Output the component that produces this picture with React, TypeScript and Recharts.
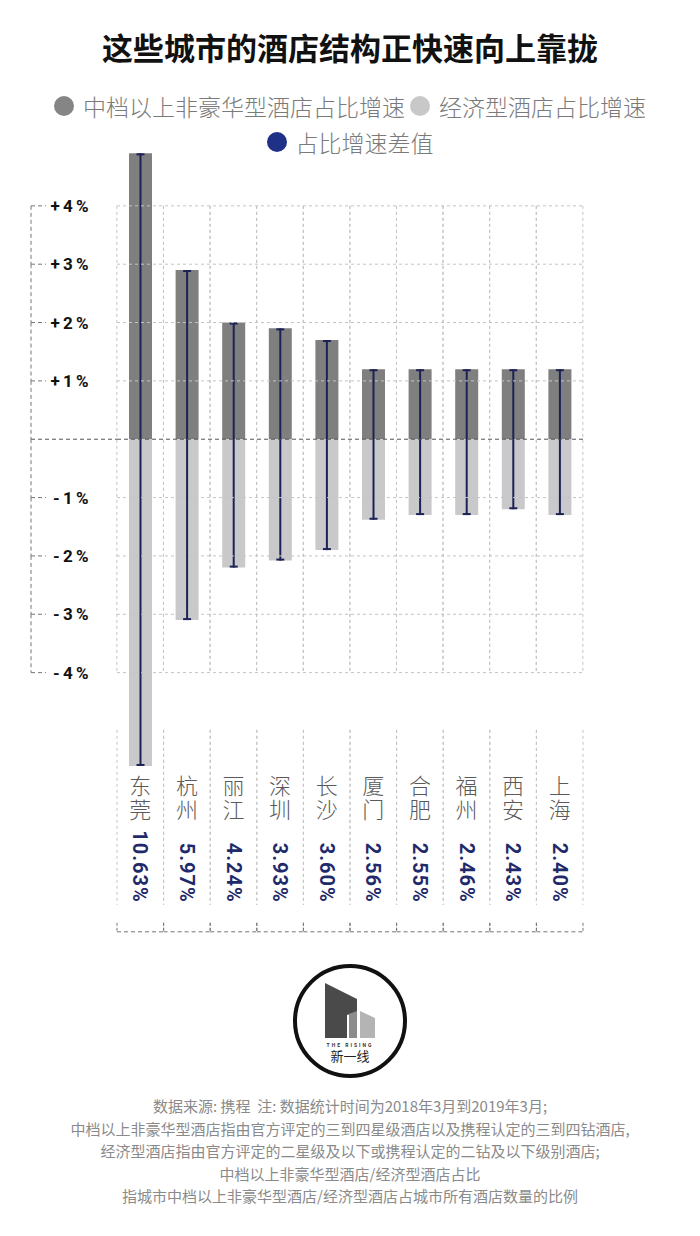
import React from 'react';
import { BarChart, Bar, XAxis, YAxis, ReferenceLine } from 'recharts';

// 数据
const cities = ['东莞', '杭州', '丽江', '深圳', '长沙', '厦门', '合肥', '福州', '西安', '上海'];
const midRise = [4.9, 2.9, 2.0, 1.9, 1.7, 1.2, 1.2, 1.2, 1.2, 1.2];
const econRise = [-5.6, -3.1, -2.2, -2.08, -1.9, -1.38, -1.3, -1.3, -1.2, -1.3];
const gapLabels = ['10.63%', '5.97%', '4.24%', '3.93%', '3.60%', '2.56%', '2.55%', '2.46%', '2.43%', '2.40%'];
const yTicks = [-4, -3, -2, -1, 0, 1, 2, 3, 4];
const gridSpan = [-4, 4];

const footNotes = [
  '数据来源: 携程  注: 数据统计时间为2018年3月到2019年3月;',
  '中档以上非豪华型酒店指由官方评定的三到四星级酒店以及携程认定的三到四钻酒店,',
  '经济型酒店指由官方评定的二星级及以下或携程认定的二钻及以下级别酒店;',
  '中档以上非豪华型酒店/经济型酒店占比',
  '指城市中档以上非豪华型酒店/经济型酒店占城市所有酒店数量的比例',
];

const data = cities.map((city, i) => ({ city, mid: midRise[i], econ: econRise[i], gap: gapLabels[i] }));

// 布局
const W = 700;
const CH = 950;
const MT = 147.5;
const MB = 5;
const XH = 173.2;
const ML = 31;
const MR = 48;
const YLW = 86;
const YRW = 69;
const DMAX = 5;
const DMIN = -5.7;
const PLOT_H = CH - MT - MB - XH;
const PPU = PLOT_H / (DMAX - DMIN);
const BAND = (W - ML - MR - YLW - YRW) / cities.length;

const MID = '#7f7f7f';
const ECON = '#c9c9cb';
const NAVY = '#1c2255';
const NAVY_DOT = '#1f3186';
const GRID = '#c4c4c4';
const BRACKET = '#777';
const ZERO = '#555';
const CJK = '"Noto Sans CJK SC", "Noto Sans", sans-serif';
const NUM = 'Roboto, "DejaVu Sans", sans-serif';

const fmt = (v: number) => (v > 0 ? '+ ' : '- ') + Math.abs(v) + ' %';

const LeftTick = ({ x, y, payload }: any) => {
  const v = payload.value;
  const bx = x - 57;
  return (
    <g>
      <line x1={bx} x2={v === 0 ? x + 29 : bx + 15} y1={y} y2={y} stroke={v === 0 ? ZERO : BRACKET} strokeDasharray="4 3" />
      {v > -4 && <line x1={bx} x2={bx} y1={y} y2={y + PPU} stroke={BRACKET} strokeDasharray="4 3" />}
      {v !== 0 && (
        <text x={x} y={y} textAnchor="end" dominantBaseline="central" fontFamily={NUM} fontWeight={700} fontSize={17} letterSpacing={-0.5} fill="#111">
          {fmt(v)}
        </text>
      )}
    </g>
  );
};

const RightTick = ({ x, y, payload }: any) => {
  const v = payload.value;
  const bx = x + 57;
  return (
    <g>
      <line x1={v === 0 ? x - 29 : bx - 15} x2={bx} y1={y} y2={y} stroke={v === 0 ? ZERO : BRACKET} strokeDasharray="4 3" />
      {v > -4 && <line x1={bx} x2={bx} y1={y} y2={y + PPU} stroke={BRACKET} strokeDasharray="4 3" />}
      {v !== 0 && (
        <text x={x} y={y} textAnchor="start" dominantBaseline="central" fontFamily={NUM} fontWeight={700} fontSize={17} letterSpacing={-0.5} fill="#111">
          {fmt(v)}
        </text>
      )}
    </g>
  );
};

const CityTick = ({ x, y, payload }: any) => {
  const row = data.find((d) => d.city === payload.value);
  if (!row) return null;
  const l = x - BAND / 2;
  const r = x + BAND / 2;
  return (
    <g>
      <line x1={l} x2={l} y1={y - 42} y2={y + 133} stroke={GRID} strokeDasharray="3 3" />
      <line x1={r} x2={r} y1={y - 42} y2={y + 133} stroke={GRID} strokeDasharray="3 3" />
      <text
        x={x}
        y={y + 3}
        writingMode="vertical-rl"
        style={{ writingMode: 'vertical-rl' }}
        letterSpacing={2}
        fontFamily={CJK}
        fontWeight={300}
        fontSize={22}
        fill="#5a5a5a"
      >
        {row.city}
      </text>
      <text
        transform={`translate(${x}, ${y + 131}) rotate(90)`}
        textAnchor="end"
        dominantBaseline="central"
        fontFamily={NUM}
        fontWeight={700}
        fontSize={20}
        letterSpacing={1}
        fill="#1f2a6b"
      >
        {row.gap}
      </text>
      <line x1={l} x2={r} y1={y + 160} y2={y + 160} stroke={BRACKET} strokeDasharray="4 3" />
      <line x1={l} x2={l} y1={y + 151} y2={y + 160} stroke={BRACKET} strokeDasharray="3 2" />
      <line x1={r} x2={r} y1={y + 151} y2={y + 160} stroke={BRACKET} strokeDasharray="3 2" />
    </g>
  );
};

// dashed column frame between +4% and -4%
const GridCell = (props: any) => {
  const { x, y, width, height } = props;
  if (x == null || y == null) return null;
  const cx = x + width / 2;
  const top = Math.min(y, y + height);
  const bottom = Math.max(y, y + height);
  return (
    <g>
      <line x1={cx - BAND / 2} x2={cx - BAND / 2} y1={top} y2={bottom} stroke={GRID} strokeDasharray="3 3" />
      <line x1={cx + BAND / 2} x2={cx + BAND / 2} y1={top} y2={bottom} stroke={GRID} strokeDasharray="3 3" />
    </g>
  );
};

const Whisker = (props: any) => {
  const { x, y, width, height } = props;
  if (x == null || y == null) return null;
  const cx = x + width / 2;
  const top = Math.min(y, y + height);
  const bottom = Math.max(y, y + height);
  return (
    <g>
      <line x1={cx} x2={cx} y1={top} y2={bottom} stroke={NAVY} strokeWidth={2} />
      <line x1={cx - 4} x2={cx + 4} y1={top + 1} y2={top + 1} stroke={NAVY} strokeWidth={2} />
      <line x1={cx - 4} x2={cx + 4} y1={bottom - 1} y2={bottom - 1} stroke={NAVY} strokeWidth={2} />
    </g>
  );
};

const Dot = ({ c }: { c: string }) => (
  <span style={{ display: 'inline-block', width: 20, height: 20, borderRadius: 10, background: c, marginRight: 9 }} />
);

export default function App() {
  return (
    <div style={{ position: 'absolute', left: 0, top: 0, width: W, height: 1236, background: '#fff', fontFamily: CJK, overflow: 'hidden' }}>
      <div style={{ position: 'absolute', left: 0, top: 0 }}>
        <BarChart width={W} height={CH} data={data} margin={{ top: MT, right: MR, bottom: MB, left: ML }} stackOffset="sign" barGap={0}>
          {yTicks
            .filter((t) => t !== 0)
            .map((t) => (
              <ReferenceLine key={t} y={t} yAxisId="l" stroke={GRID} strokeDasharray="3 3" />
            ))}
          <XAxis dataKey="city" height={XH} tickLine={false} axisLine={false} tickSize={0} tickMargin={0} interval={0} tick={CityTick} />
          <XAxis xAxisId="b" dataKey="city" hide />
          <XAxis xAxisId="c" dataKey="city" hide />
          <YAxis
            yAxisId="l"
            type="number"
            domain={[DMIN, DMAX]}
            ticks={yTicks}
            width={YLW}
            tickLine={false}
            axisLine={false}
            tickSize={0}
            tickMargin={29}
            tick={LeftTick}
            interval={0}
          />
          <YAxis
            yAxisId="r"
            orientation="right"
            type="number"
            domain={[DMIN, DMAX]}
            ticks={yTicks}
            width={YRW}
            tickLine={false}
            axisLine={false}
            tickSize={0}
            tickMargin={29}
            tick={RightTick}
            interval={0}
          />
          <Bar xAxisId="c" yAxisId="l" dataKey={() => gridSpan} shape={GridCell} isAnimationActive={false} />
          <Bar dataKey="mid" stackId="s" yAxisId="l" fill={MID} barSize={23} isAnimationActive={false} />
          <Bar dataKey="econ" stackId="s" yAxisId="l" fill={ECON} barSize={23} isAnimationActive={false} />
          <ReferenceLine y={0} yAxisId="l" stroke={ZERO} strokeDasharray="4 3" />
          <Bar
            xAxisId="b"
            yAxisId="l"
            dataKey={(d: any) => [d.econ, d.mid]}
            barSize={23}
            shape={Whisker}
            isAnimationActive={false}
          />
        </BarChart>
      </div>

      <div style={{ position: 'absolute', left: 0, top: 31, width: W, height: 32, lineHeight: '32px', textAlign: 'center', fontSize: 31, fontWeight: 700, color: '#111' }}>
        这些城市的酒店结构正快速向上靠拢
      </div>

      <div style={{ position: 'absolute', left: 0, top: 91, width: W, height: 30, display: 'flex', justifyContent: 'center', alignItems: 'center', fontSize: 23, fontWeight: 300, color: '#7a7a7a' }}>
        <Dot c="#858585" />
        <span>中档以上非豪华型酒店占比增速</span>
        <span style={{ display: 'inline-block', width: 5 }} />
        <Dot c="#c8c8c8" />
        <span>经济型酒店占比增速</span>
      </div>
      <div style={{ position: 'absolute', left: 0, top: 127, width: W, height: 30, display: 'flex', justifyContent: 'center', alignItems: 'center', fontSize: 23, fontWeight: 300, color: '#7a7a7a' }}>
        <Dot c={NAVY_DOT} />
        <span>占比增速差值</span>
      </div>

      <svg style={{ position: 'absolute', left: 290, top: 960 }} width={120} height={125}>
        <circle cx={60} cy={61} r={55} fill="#fff" stroke="#111" strokeWidth={4} />
        <polygon points="35,23 67,39 67,52 57,55 57,78 35,78" fill="#4a4a4a" />
        <polygon points="59,54 67,51 67,78 59,78" fill="#8c8c8c" />
        <polygon points="70,51 85,58 85,78 70,78" fill="#b4b4b4" />
        <text x={60} y={87} textAnchor="middle" fontFamily={NUM} fontWeight={700} fontSize={5} letterSpacing={2} fill="#333">
          THE RISING
        </text>
        <text x={60} y={101} textAnchor="middle" fontFamily={CJK} fontSize={13} fill="#222">
          新一线
        </text>
      </svg>

      <div style={{ position: 'absolute', left: 0, top: 1095, width: W, textAlign: 'center', fontSize: 15, lineHeight: '22.5px', color: '#8a8a8a', whiteSpace: 'pre' }}>
        {footNotes.map((t, i) => (
          <div key={i}>{t}</div>
        ))}
      </div>
    </div>
  );
}
